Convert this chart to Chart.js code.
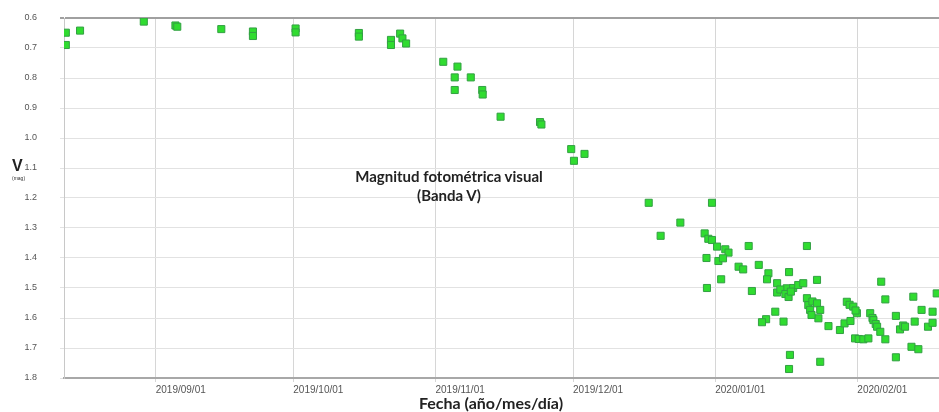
<!DOCTYPE html>
<html>
<head>
<meta charset="utf-8">
<script src="https://cdn.jsdelivr.net/npm/chart.js@4/dist/chart.umd.min.js"></script>
<style>
  html, body { margin: 0; padding: 0; background: #fff; overflow: hidden; }
  .wrap { position: relative; width: 939px; height: 412px; }
  .note { position: absolute; font-family: Lato, sans-serif; font-weight: bold; color: #222; white-space: nowrap; transform: translateX(-50%); text-align: center; }
</style>
</head>
<body>
<div class="wrap">
  <canvas id="chart" width="939" height="412"></canvas>
  <div class="note" style="left:449px; top:167px; font-size:15px; line-height:19px;">Magnitud fotométrica visual<br>(Banda V)</div>
  <div class="note" style="left:491px; top:394px; font-size:16px; line-height:18px;">Fecha (año/mes/día)</div>
  <div style="position:absolute; left:12px; top:157px; font: bold 16px 'Liberation Sans'; color:#222;">V</div>
  <div style="position:absolute; left:12px; top:175px; font: 5px 'Liberation Sans'; color:#333;">(mag)</div>
</div>
<script>
// days counted from 2019/08/01
const monthDays = [31, 61, 92, 122, 153, 184];
const monthLabels = ['2019/09/01', '2019/10/01', '2019/11/01', '2019/12/01', '2020/01/01', '2020/02/01'];
const yTicks = [0.6, 0.7, 0.8, 0.9, 1.0, 1.1, 1.2, 1.3, 1.4, 1.5, 1.6, 1.7, 1.8];

const days = [
  11.4, 11.4, 14.5, 28.4, 35.3, 35.7, 45.3, 52.2, 52.2, 61.5, 61.5, 75.3, 75.3,
  82.3, 82.3, 84.3, 84.8, 85.6, 93.7, 96.8, 96.2, 99.7, 96.2, 102.2, 102.3, 106.2,
  114.8, 115.1, 121.6, 124.5, 122.2, 138.5, 152.3, 145.4, 141.1, 150.7, 151.5, 152.3,
  153.4, 155.2, 155.9, 160.3, 173.0, 151.1, 153.7, 154.7, 154.3, 151.2, 158.1, 159.1,
  162.5, 164.6, 164.3, 169.1, 166.5, 161.0, 166.5, 168.6, 175.2, 167.2, 168.3, 169.0,
  170.0, 171.1, 172.2, 169.5, 173.0, 173.3, 173.7, 174.2, 175.2, 175.9, 175.5, 174.0,
  177.7, 166.1, 164.1, 163.2, 167.9, 180.2, 181.2, 181.7, 182.3, 183.1, 183.9, 183.6,
  182.5, 183.5, 184.3, 185.3, 186.4, 186.8, 187.3, 187.5, 188.0, 188.3, 189.0, 190.1,
  189.2, 190.1, 192.4, 193.3, 194.0, 194.4, 192.4, 195.8, 197.3, 196.2, 196.5, 198.0,
  199.4, 200.4, 200.4, 201.3, 169.3, 169.1, 175.9
];
const vmag = [
  0.649, 0.690, 0.642, 0.612, 0.625, 0.629, 0.637, 0.645, 0.660, 0.635, 0.648, 0.650, 0.662,
  0.673, 0.690, 0.652, 0.668, 0.685, 0.746, 0.762, 0.798, 0.798, 0.840, 0.840, 0.855, 0.929,
  0.947, 0.955, 1.037, 1.053, 1.076, 1.216, 1.216, 1.282, 1.326, 1.318, 1.336, 1.340,
  1.362, 1.371, 1.382, 1.360, 1.360, 1.400, 1.410, 1.401, 1.471, 1.500, 1.429, 1.438,
  1.423, 1.451, 1.471, 1.447, 1.484, 1.510, 1.515, 1.501, 1.473, 1.505, 1.520, 1.530,
  1.500, 1.490, 1.484, 1.512, 1.534, 1.557, 1.573, 1.545, 1.551, 1.573, 1.601, 1.590,
  1.627, 1.579, 1.604, 1.614, 1.612, 1.640, 1.618, 1.546, 1.556, 1.562, 1.584, 1.575,
  1.610, 1.668, 1.670, 1.671, 1.668, 1.584, 1.600, 1.607, 1.620, 1.629, 1.646, 1.671,
  1.479, 1.538, 1.593, 1.638, 1.625, 1.629, 1.731, 1.696, 1.704, 1.529, 1.612, 1.573,
  1.629, 1.579, 1.616, 1.518, 1.723, 1.770, 1.746
];

const points = days.map((d, i) => ({ x: d, y: vmag[i] }));

new Chart(document.getElementById('chart'), {
  type: 'scatter',
  data: {
    datasets: [{
      label: 'V',
      data: points,
      pointStyle: 'rect',
      pointRadius: 5,
      backgroundColor: '#30dc30',
      borderColor: '#33a043',
      borderWidth: 1
    }]
  },
  options: {
    responsive: false,
    animation: false,
    layout: { autoPadding: false, padding: { top: 18, left: 0, right: 0, bottom: 0 } },
    plugins: { legend: { display: false }, tooltip: { enabled: false } },
    scales: {
      x: {
        type: 'linear',
        min: 11,
        max: 201.8,
        afterBuildTicks: axis => { axis.ticks = monthDays.map(v => ({ value: v })); },
        afterFit: scale => { scale.height = 34; },
        ticks: {
          callback: v => monthLabels[monthDays.indexOf(v)],
          align: 'start',
          autoSkip: false,
          maxRotation: 0,
          padding: 2,
          color: '#555',
          font: { family: 'Liberation Sans', size: 10 }
        },
        grid: { color: '#d6d6d6', tickLength: 4 },
        border: { color: '#a8a8a8', width: 2 }
      },
      y: {
        min: 0.6,
        max: 1.8,
        reverse: true,
        afterBuildTicks: axis => { axis.ticks = yTicks.map(v => ({ value: v })); },
        // big label gap would otherwise push the plot top down
        afterFit: scale => { scale.width = 64; scale.paddingTop = 0; scale.paddingBottom = 0; },
        ticks: {
          callback: v => v.toFixed(1),
          padding: 23,
          color: '#555',
          font: { family: 'Liberation Sans', size: 9 }
        },
        grid: {
          color: ctx => ctx.tick && ctx.tick.value === 0.6 ? '#a0a0a0' : '#e2e2e2',
          lineWidth: ctx => ctx.tick && ctx.tick.value === 0.6 ? 2 : 1,
          tickLength: 4
        },
        border: { color: '#c8c8c8', width: 1 }
      }
    }
  }
});
</script>
</body>
</html>
